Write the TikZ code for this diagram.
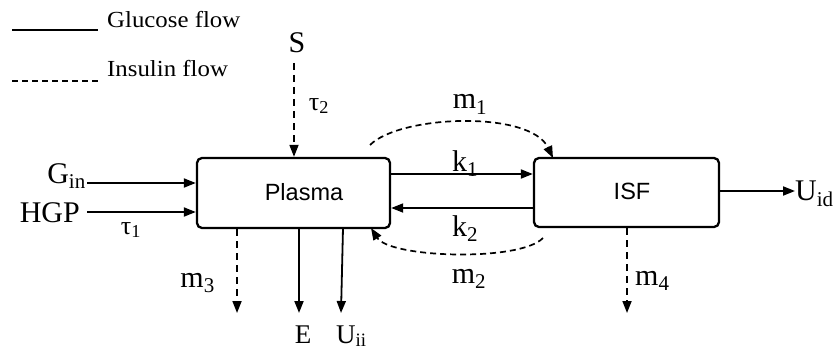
\documentclass[tikz,border=0pt]{standalone}
\usepackage{fontspec}
\setmainfont{Liberation Serif}
\newfontfamily\boxfont{Liberation Sans}
\usetikzlibrary{arrows.meta}
\tikzset{
  flow/.style={line width=1.8pt,-{Triangle[length=12pt,width=9pt]}},
  iflow/.style={line width=1.7pt,dash pattern=on 7pt off 5pt,-{Triangle[length=12pt,width=9pt]}},
  comp/.style={draw,line width=2.3pt,rounded corners=5pt,inner sep=0pt},
  lbl/.style={inner sep=0pt,font=\fontsize{30}{32}\selectfont},
  slbl/.style={inner sep=0pt,font=\fontsize{27}{29}\selectfont},
  tlbl/.style={inner sep=0pt,font=\fontsize{26}{28}\selectfont},
  legtext/.style={inner sep=0pt,font=\fontsize{23}{25}\selectfont},
  boxtext/.style={inner sep=0pt,font=\boxfont\fontsize{23.5}{25}\selectfont}
}
\begin{document}
\begin{tikzpicture}[x=1pt,y=-1pt]
\useasboundingbox (0,0) rectangle (837,350);
% legend
\coordinate (l1a) at (12,30); \coordinate (l1b) at (98,30);
\coordinate (l2a) at (12,81); \coordinate (l2b) at (98,81);
\draw[line width=1.9pt] (l1a) -- (l1b);
\draw[line width=1.7pt,dash pattern=on 6pt off 4pt] (l2a) -- (l2b);
\node[legtext,anchor=base west] (leg1) at (107,28) {\scalebox{1.08}[1]{Glucose flow}};
\node[legtext,anchor=base west] (leg2) at (107,77) {\scalebox{1.08}[1]{Insulin flow}};
% compartments
\node[comp,minimum width=193pt,minimum height=70pt] (plasma) at (293.5,193) {};
\node[comp,minimum width=185pt,minimum height=69pt] (isf) at (626.5,192.5) {};
\node[boxtext] (plasmaT) at (304,192) {Plasma};
\node[boxtext] (isfT) at (632,191) {ISF};
% inputs
\node[lbl,anchor=base east] (gin) at (86,183) {G\textsubscript{in}};
\node[lbl,anchor=base east] (hgp) at (80,222) {HGP};
\node[tlbl] (tau1) at (131,230) {τ\textsubscript{1}};
\coordinate (ginS) at (87,183);
\coordinate (hgpS) at (87,212);
\draw[flow] (ginS) -- (plasma.west |- ginS);
\draw[flow] (hgpS) -- (plasma.west |- hgpS);
% S input
\node[lbl] (S) at (297,43) {S};
\node[tlbl] (tau2) at (319,106) {τ\textsubscript{2}};
\coordinate (sS) at (294,63);
\draw[iflow] (sS) -- (plasma.north -| sS);
% exchange
\coordinate (k1a) at (390,174); \coordinate (k2a) at (534,208);
\draw[flow] (plasma.east |- k1a) -- (isf.west |- k1a);
\draw[flow] (isf.west |- k2a) -- (plasma.east |- k2a);
\node[lbl,anchor=base] (k1) at (465,171) {k\textsubscript{1}};
\node[lbl,anchor=base] (k2) at (465,236) {k\textsubscript{2}};
\coordinate (m1s) at (370,145); \coordinate (m1e) at (553,158);
\draw[iflow,dash pattern=on 6pt off 4pt] (m1s) .. controls (400,115) and (530,110) .. (m1e);
\coordinate (m2s) at (543,238); \coordinate (m2e) at (371,228);
\draw[iflow,dash pattern=on 6pt off 4pt] (m2s) .. controls (520,262) and (390,258) .. (m2e);
\node[lbl,anchor=base] (m1) at (470,109) {m\textsubscript{1}};
\node[lbl,anchor=base] (m2) at (469,283) {m\textsubscript{2}};
% outputs
\coordinate (m3e) at (237,313); \coordinate (Ee) at (299,313); \coordinate (Ue) at (341,313);
\coordinate (m4e) at (627,313);
\coordinate (Us) at (343,228);
\draw[iflow] (plasma.south -| m3e) -- (m3e);
\draw[flow] (plasma.south -| Ee) -- (Ee);
\draw[flow] (Us) -- (Ue);
\draw[iflow] (isf.south -| m4e) -- (m4e);
\node[lbl,anchor=base east] (m3) at (215,287) {m\textsubscript{3}};
\node[slbl,anchor=base] (E) at (303,343) {E};
\node[slbl,anchor=base west] (Uii) at (336,343) {U\textsubscript{ii}};
\node[lbl,anchor=base west] (m4) at (635,285) {m\textsubscript{4}};
% Uid
\node[lbl,anchor=base west] (Uid) at (795,200) {U\textsubscript{id}};
\draw[flow] (isf.east |- 0,191) -- (Uid.west |- 0,191);
\end{tikzpicture}
\end{document}
